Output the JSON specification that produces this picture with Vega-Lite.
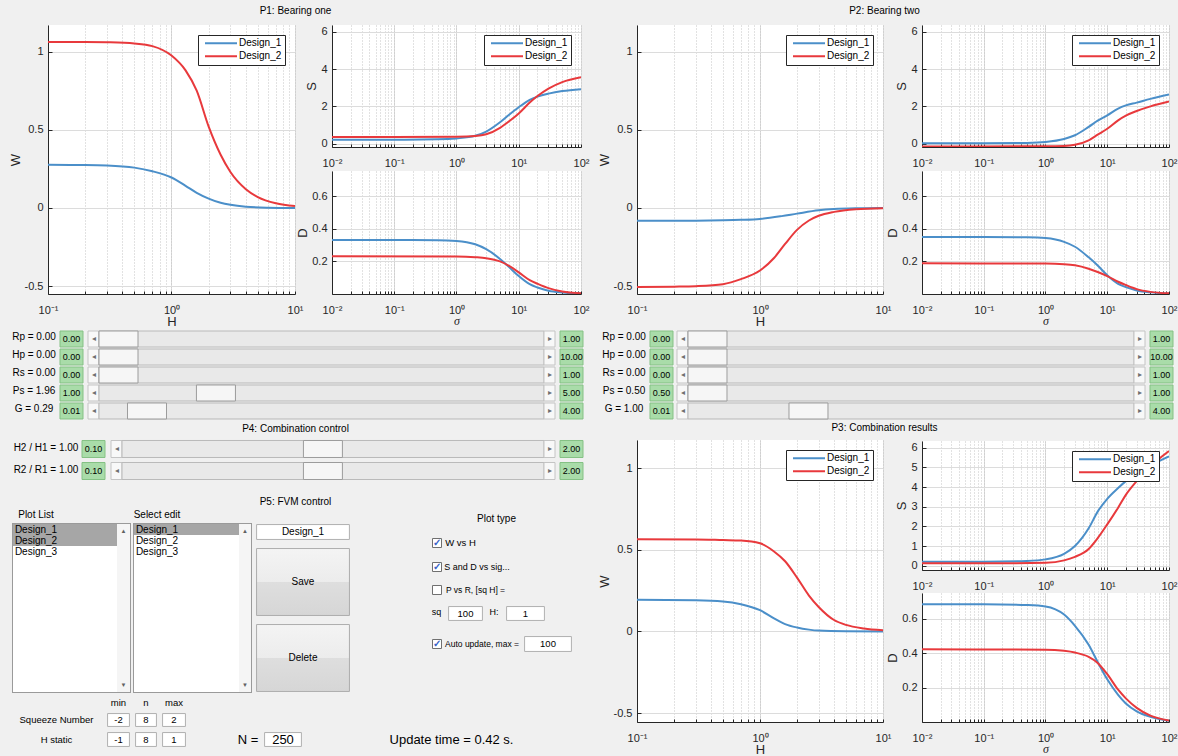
{
"$schema":"https://vega.github.io/schema/vega-lite/v6.json",
"padding":0,
"background":"#f0f0f0",
"autosize":{"type":"pad"},
"usermeta":{"embedOptions":{"actions":false}},
"config":{
 "view":{"stroke":null},
 "font":"Liberation Sans",
 "text":{"font":"Liberation Sans","fontSize":10,"color":"#000000"},
 "axis":{"labelFont":"Liberation Sans","labelFontSize":11,"labelColor":"#262626","titleFont":"Liberation Sans","titleFontSize":13,"titleFontWeight":"normal","titleColor":"#262626","domainColor":"#262626","domainWidth":1,"tickColor":"#262626","gridColor":"#dcdcdc","labelFlush":false,"labelOverlap":false,"labelBound":false},
 "legend":{"orient":"top-right","offset":10,"fillColor":"white","strokeColor":"#262626","padding":3,"symbolType":"stroke","symbolSize":1024,"symbolStrokeWidth":2,"symbolOffset":3,"clipHeight":10.5,"rowPadding":2,"labelOffset":1,"labelFont":"Liberation Sans","labelFontSize":10,"labelColor":"#000000","labelLimit":200}
},
"datasets":{
 "e":[],
 "one":[{"a":1}],
 "sl1":[{"k":"Rp","t":"Rp = 0.00","lo":0,"hi":1,"v":0,"los":"0.00","his":"1.00"},{"k":"Hp","t":"Hp = 0.00","lo":0,"hi":10,"v":0,"los":"0.00","his":"10.00"},{"k":"Rs","t":"Rs = 0.00","lo":0,"hi":1,"v":0,"los":"0.00","his":"1.00"},{"k":"Ps","t":"Ps = 1.96","lo":1,"hi":5,"v":1.96,"los":"1.00","his":"5.00"},{"k":"G","t":"G = 0.29","lo":0.01,"hi":4,"v":0.29,"los":"0.01","his":"4.00"}],
 "sl2":[{"k":"Rp","t":"Rp = 0.00","lo":0,"hi":1,"v":0,"los":"0.00","his":"1.00"},{"k":"Hp","t":"Hp = 0.00","lo":0,"hi":10,"v":0,"los":"0.00","his":"10.00"},{"k":"Rs","t":"Rs = 0.00","lo":0,"hi":1,"v":0,"los":"0.00","his":"1.00"},{"k":"Ps","t":"Ps = 0.50","lo":0.5,"hi":1,"v":0.5,"los":"0.50","his":"1.00"},{"k":"G","t":"G = 1.00","lo":0.01,"hi":4,"v":1,"los":"0.01","his":"4.00"}],
 "sl4":[{"k":"H","t":"H2 / H1 = 1.00","lo":0.1,"hi":2,"v":1,"los":"0.10","his":"2.00"},{"k":"R","t":"R2 / R1 = 1.00","lo":0.1,"hi":2,"v":1,"los":"0.10","his":"2.00"}],
 "lb1":[{"i":"Design_1","s":1},{"i":"Design_2","s":1},{"i":"Design_3","s":0}],
 "lb2":[{"i":"Design_1","s":1},{"i":"Design_2","s":0},{"i":"Design_3","s":0}],
 "pw1":[{"d":"Design_1","x":0.1,"y":0.276},{"d":"Design_1","x":0.2,"y":0.275},{"d":"Design_1","x":0.3,"y":0.272},{"d":"Design_1","x":0.5,"y":0.258},{"d":"Design_1","x":0.7,"y":0.235},{"d":"Design_1","x":1,"y":0.195},{"d":"Design_1","x":1.3,"y":0.142},{"d":"Design_1","x":1.6,"y":0.097},{"d":"Design_1","x":2,"y":0.06},{"d":"Design_1","x":2.5,"y":0.033},{"d":"Design_1","x":3,"y":0.02},{"d":"Design_1","x":4,"y":0.008},{"d":"Design_1","x":6,"y":0.002},{"d":"Design_1","x":10,"y":0},{"d":"Design_2","x":0.1,"y":1.062},{"d":"Design_2","x":0.2,"y":1.062},{"d":"Design_2","x":0.3,"y":1.06},{"d":"Design_2","x":0.5,"y":1.052},{"d":"Design_2","x":0.7,"y":1.035},{"d":"Design_2","x":1,"y":0.975},{"d":"Design_2","x":1.3,"y":0.88},{"d":"Design_2","x":1.6,"y":0.75},{"d":"Design_2","x":2,"y":0.52},{"d":"Design_2","x":2.5,"y":0.34},{"d":"Design_2","x":3,"y":0.23},{"d":"Design_2","x":4,"y":0.12},{"d":"Design_2","x":5,"y":0.07},{"d":"Design_2","x":7,"y":0.03},{"d":"Design_2","x":10,"y":0.012}],
 "ps1":[{"d":"Design_1","x":0.01,"y":0.21},{"d":"Design_1","x":0.1,"y":0.21},{"d":"Design_1","x":0.5,"y":0.23},{"d":"Design_1","x":1,"y":0.28},{"d":"Design_1","x":2,"y":0.42},{"d":"Design_1","x":3,"y":0.65},{"d":"Design_1","x":5,"y":1.15},{"d":"Design_1","x":7,"y":1.55},{"d":"Design_1","x":10,"y":1.95},{"d":"Design_1","x":15,"y":2.35},{"d":"Design_1","x":20,"y":2.52},{"d":"Design_1","x":30,"y":2.68},{"d":"Design_1","x":50,"y":2.82},{"d":"Design_1","x":100,"y":2.92},{"d":"Design_2","x":0.01,"y":0.35},{"d":"Design_2","x":0.1,"y":0.35},{"d":"Design_2","x":1,"y":0.37},{"d":"Design_2","x":2,"y":0.41},{"d":"Design_2","x":3,"y":0.5},{"d":"Design_2","x":5,"y":0.85},{"d":"Design_2","x":7,"y":1.2},{"d":"Design_2","x":10,"y":1.62},{"d":"Design_2","x":15,"y":2.2},{"d":"Design_2","x":20,"y":2.55},{"d":"Design_2","x":30,"y":2.95},{"d":"Design_2","x":50,"y":3.3},{"d":"Design_2","x":100,"y":3.56}],
 "pd1":[{"d":"Design_1","x":0.01,"y":0.331},{"d":"Design_1","x":0.1,"y":0.331},{"d":"Design_1","x":0.5,"y":0.33},{"d":"Design_1","x":1,"y":0.326},{"d":"Design_1","x":2,"y":0.305},{"d":"Design_1","x":3,"y":0.275},{"d":"Design_1","x":5,"y":0.215},{"d":"Design_1","x":7,"y":0.165},{"d":"Design_1","x":10,"y":0.11},{"d":"Design_1","x":15,"y":0.06},{"d":"Design_1","x":20,"y":0.04},{"d":"Design_1","x":30,"y":0.02},{"d":"Design_1","x":50,"y":0.009},{"d":"Design_1","x":100,"y":0.003},{"d":"Design_2","x":0.01,"y":0.231},{"d":"Design_2","x":1,"y":0.23},{"d":"Design_2","x":2,"y":0.226},{"d":"Design_2","x":3,"y":0.22},{"d":"Design_2","x":5,"y":0.2},{"d":"Design_2","x":7,"y":0.172},{"d":"Design_2","x":10,"y":0.133},{"d":"Design_2","x":15,"y":0.085},{"d":"Design_2","x":20,"y":0.063},{"d":"Design_2","x":30,"y":0.036},{"d":"Design_2","x":50,"y":0.016},{"d":"Design_2","x":100,"y":0.005}],
 "pw2":[{"d":"Design_1","x":0.1,"y":-0.082},{"d":"Design_1","x":0.3,"y":-0.081},{"d":"Design_1","x":0.5,"y":-0.079},{"d":"Design_1","x":0.7,"y":-0.076},{"d":"Design_1","x":1,"y":-0.07},{"d":"Design_1","x":1.5,"y":-0.052},{"d":"Design_1","x":2,"y":-0.036},{"d":"Design_1","x":3,"y":-0.015},{"d":"Design_1","x":4,"y":-0.007},{"d":"Design_1","x":6,"y":-0.002},{"d":"Design_1","x":10,"y":0},{"d":"Design_2","x":0.1,"y":-0.505},{"d":"Design_2","x":0.2,"y":-0.503},{"d":"Design_2","x":0.3,"y":-0.5},{"d":"Design_2","x":0.5,"y":-0.487},{"d":"Design_2","x":0.7,"y":-0.455},{"d":"Design_2","x":1,"y":-0.4},{"d":"Design_2","x":1.3,"y":-0.32},{"d":"Design_2","x":1.6,"y":-0.23},{"d":"Design_2","x":2,"y":-0.14},{"d":"Design_2","x":2.5,"y":-0.08},{"d":"Design_2","x":3,"y":-0.05},{"d":"Design_2","x":4,"y":-0.025},{"d":"Design_2","x":6,"y":-0.008},{"d":"Design_2","x":10,"y":-0.001}],
 "ps2":[{"d":"Design_1","x":0.01,"y":0.02},{"d":"Design_1","x":0.1,"y":0.02},{"d":"Design_1","x":0.5,"y":0.04},{"d":"Design_1","x":1,"y":0.09},{"d":"Design_1","x":2,"y":0.25},{"d":"Design_1","x":3,"y":0.45},{"d":"Design_1","x":5,"y":0.9},{"d":"Design_1","x":7,"y":1.23},{"d":"Design_1","x":10,"y":1.52},{"d":"Design_1","x":15,"y":1.88},{"d":"Design_1","x":20,"y":2.05},{"d":"Design_1","x":30,"y":2.2},{"d":"Design_1","x":50,"y":2.4},{"d":"Design_1","x":100,"y":2.63},{"d":"Design_2","x":0.01,"y":-0.15},{"d":"Design_2","x":1,"y":-0.14},{"d":"Design_2","x":2,"y":-0.12},{"d":"Design_2","x":3,"y":-0.06},{"d":"Design_2","x":5,"y":0.18},{"d":"Design_2","x":7,"y":0.48},{"d":"Design_2","x":10,"y":0.8},{"d":"Design_2","x":15,"y":1.25},{"d":"Design_2","x":20,"y":1.5},{"d":"Design_2","x":30,"y":1.75},{"d":"Design_2","x":50,"y":2.0},{"d":"Design_2","x":100,"y":2.26}],
 "pd2":[{"d":"Design_1","x":0.01,"y":0.35},{"d":"Design_1","x":0.1,"y":0.35},{"d":"Design_1","x":0.5,"y":0.348},{"d":"Design_1","x":1,"y":0.343},{"d":"Design_1","x":2,"y":0.32},{"d":"Design_1","x":3,"y":0.29},{"d":"Design_1","x":5,"y":0.225},{"d":"Design_1","x":7,"y":0.175},{"d":"Design_1","x":10,"y":0.115},{"d":"Design_1","x":15,"y":0.062},{"d":"Design_1","x":20,"y":0.042},{"d":"Design_1","x":30,"y":0.022},{"d":"Design_1","x":50,"y":0.01},{"d":"Design_1","x":100,"y":0.003},{"d":"Design_2","x":0.01,"y":0.188},{"d":"Design_2","x":1,"y":0.187},{"d":"Design_2","x":2,"y":0.183},{"d":"Design_2","x":3,"y":0.176},{"d":"Design_2","x":5,"y":0.155},{"d":"Design_2","x":7,"y":0.135},{"d":"Design_2","x":10,"y":0.11},{"d":"Design_2","x":15,"y":0.075},{"d":"Design_2","x":20,"y":0.055},{"d":"Design_2","x":30,"y":0.03},{"d":"Design_2","x":50,"y":0.013},{"d":"Design_2","x":100,"y":0.004}],
 "pw3":[{"d":"Design_1","x":0.1,"y":0.194},{"d":"Design_1","x":0.3,"y":0.191},{"d":"Design_1","x":0.5,"y":0.184},{"d":"Design_1","x":0.7,"y":0.167},{"d":"Design_1","x":1,"y":0.13},{"d":"Design_1","x":1.3,"y":0.08},{"d":"Design_1","x":1.6,"y":0.045},{"d":"Design_1","x":2,"y":0.024},{"d":"Design_1","x":2.5,"y":0.011},{"d":"Design_1","x":3,"y":0.005},{"d":"Design_1","x":5,"y":0.001},{"d":"Design_1","x":10,"y":0},{"d":"Design_2","x":0.1,"y":0.565},{"d":"Design_2","x":0.3,"y":0.564},{"d":"Design_2","x":0.5,"y":0.56},{"d":"Design_2","x":0.7,"y":0.557},{"d":"Design_2","x":1,"y":0.54},{"d":"Design_2","x":1.3,"y":0.49},{"d":"Design_2","x":1.6,"y":0.43},{"d":"Design_2","x":2,"y":0.33},{"d":"Design_2","x":2.5,"y":0.22},{"d":"Design_2","x":3,"y":0.15},{"d":"Design_2","x":4,"y":0.07},{"d":"Design_2","x":5,"y":0.04},{"d":"Design_2","x":7,"y":0.018},{"d":"Design_2","x":10,"y":0.007}],
 "ps3":[{"d":"Design_1","x":0.01,"y":0.2},{"d":"Design_1","x":0.1,"y":0.2},{"d":"Design_1","x":0.5,"y":0.24},{"d":"Design_1","x":1,"y":0.32},{"d":"Design_1","x":2,"y":0.6},{"d":"Design_1","x":3,"y":1.0},{"d":"Design_1","x":5,"y":1.9},{"d":"Design_1","x":7,"y":2.75},{"d":"Design_1","x":10,"y":3.4},{"d":"Design_1","x":15,"y":3.95},{"d":"Design_1","x":20,"y":4.3},{"d":"Design_1","x":30,"y":4.7},{"d":"Design_1","x":50,"y":5.1},{"d":"Design_1","x":100,"y":5.56},{"d":"Design_2","x":0.01,"y":0.12},{"d":"Design_2","x":0.1,"y":0.12},{"d":"Design_2","x":1,"y":0.15},{"d":"Design_2","x":2,"y":0.27},{"d":"Design_2","x":3,"y":0.45},{"d":"Design_2","x":5,"y":0.85},{"d":"Design_2","x":7,"y":1.4},{"d":"Design_2","x":10,"y":2.1},{"d":"Design_2","x":15,"y":2.95},{"d":"Design_2","x":20,"y":3.6},{"d":"Design_2","x":30,"y":4.3},{"d":"Design_2","x":50,"y":5.05},{"d":"Design_2","x":100,"y":5.83}],
 "pd3":[{"d":"Design_1","x":0.01,"y":0.685},{"d":"Design_1","x":0.1,"y":0.685},{"d":"Design_1","x":0.5,"y":0.68},{"d":"Design_1","x":1,"y":0.672},{"d":"Design_1","x":2,"y":0.625},{"d":"Design_1","x":3,"y":0.56},{"d":"Design_1","x":5,"y":0.45},{"d":"Design_1","x":7,"y":0.35},{"d":"Design_1","x":10,"y":0.25},{"d":"Design_1","x":15,"y":0.16},{"d":"Design_1","x":20,"y":0.11},{"d":"Design_1","x":30,"y":0.065},{"d":"Design_1","x":50,"y":0.033},{"d":"Design_1","x":100,"y":0.01},{"d":"Design_2","x":0.01,"y":0.424},{"d":"Design_2","x":1,"y":0.422},{"d":"Design_2","x":2,"y":0.415},{"d":"Design_2","x":3,"y":0.405},{"d":"Design_2","x":5,"y":0.38},{"d":"Design_2","x":7,"y":0.345},{"d":"Design_2","x":10,"y":0.28},{"d":"Design_2","x":15,"y":0.19},{"d":"Design_2","x":20,"y":0.14},{"d":"Design_2","x":30,"y":0.085},{"d":"Design_2","x":50,"y":0.04},{"d":"Design_2","x":100,"y":0.012}]
},
"spacing":0,
"resolve":{"scale":{"color":"independent"}},
"vconcat":[
{"vconcat":[
 {"hconcat":[
  {"width":6,"height":25,"data":{"name":"e"},"mark":"point"},
  {"width":579,"height":25,"data":{"name":"one"},"mark":{"type":"text","text":"P1: Bearing one","fontSize":10,"dy":-1.5}},
  {"width":12,"height":25,"data":{"name":"e"},"mark":"point"},
  {"width":575,"height":25,"data":{"name":"one"},"mark":{"type":"text","text":"P2: Bearing two","fontSize":10,"dy":-1.5}},
  {"width":6,"height":25,"data":{"name":"e"},"mark":"point"}
 ],"bounds":"flush","spacing":0},
 {"concat":[
  {"width":48,"height":304,"data":{"name":"e"},"mark":"point"},
  {"width":247,"height":269,"view":{"fill":"white"},"resolve":{"axis":{"x":"independent","y":"independent"}},"layer":[
   {"data":{"name":"e"},"mark":"point","encoding":{"x":{"field":"x","type":"quantitative","scale":{"type":"log","domain":[0.1,10],"nice":false},"axis":{"orient":"bottom","values":[0.1,1,10],"labelExpr":"datum.value < 0.5 ? '10⁻¹' : datum.value < 5 ? '10⁰' : '10¹'","grid":true,"ticks":false,"labelBaseline":"alphabetic","labelPadding":19,"title":"H","titlePadding":0}},"y":{"field":"y","type":"quantitative","scale":{"domain":[-0.55,1.17],"nice":false,"zero":false},"axis":{"orient":"left","values":[-0.5,0,0.5,1],"grid":false,"ticks":true,"tickSize":-4,"labels":false,"domain":false,"title":null}}}},
   {"data":{"name":"pw1"},"mark":{"type":"line","interpolate":"monotone","strokeWidth":2,"clip":true},"encoding":{"x":{"field":"x","type":"quantitative","scale":{"type":"log","domain":[0.1,10],"nice":false},"axis":{"orient":"bottom","values":[0.1,0.2,0.3,0.4,0.5,0.6,0.7,0.8,0.9,1,2,3,4,5,6,7,8,9,10],"grid":true,"gridColor":"#c4c4c4","gridDash":[1,2],"ticks":true,"tickSize":-3,"labels":false,"domain":false,"title":null}},"y":{"field":"y","type":"quantitative","scale":{"domain":[-0.55,1.17],"nice":false,"zero":false},"axis":{"orient":"left","values":[-0.5,0,0.5,1],"grid":true,"ticks":false,"labelPadding":5,"labelExpr":"toString(datum.value)","title":"W","titlePadding":2}},"color":{"field":"d","type":"nominal","scale":{"domain":["Design_1","Design_2"],"range":["#4b8fc9","#e8393c"]},"legend":{"title":null}}}}]},
  {"width":37,"height":1,"data":{"name":"e"},"mark":"point"},
  {"vconcat":[
   {"width":249,"height":122,"view":{"fill":"white"},"resolve":{"axis":{"x":"independent","y":"independent"}},"layer":[
    {"data":{"name":"e"},"mark":"point","encoding":{"x":{"field":"x","type":"quantitative","scale":{"type":"log","domain":[0.01,100],"nice":false},"axis":{"orient":"bottom","values":[0.01,0.1,1,10,100],"labelExpr":"datum.value < 0.05 ? '10⁻²' : datum.value < 0.5 ? '10⁻¹' : datum.value < 5 ? '10⁰' : datum.value < 50 ? '10¹' : '10²'","grid":true,"ticks":false,"labelBaseline":"alphabetic","labelPadding":19,"title":null}},"y":{"field":"y","type":"quantitative","scale":{"domain":[-0.18,6.36],"nice":false,"zero":false},"axis":{"orient":"left","values":[0,2,4,6],"grid":false,"ticks":true,"tickSize":-4,"labels":false,"domain":false,"title":null}}}},
    {"data":{"name":"ps1"},"mark":{"type":"line","interpolate":"monotone","strokeWidth":2,"clip":true},"encoding":{"x":{"field":"x","type":"quantitative","scale":{"type":"log","domain":[0.01,100],"nice":false},"axis":{"orient":"bottom","values":[0.01,0.02,0.03,0.04,0.05,0.06,0.07,0.08,0.09,0.1,0.2,0.3,0.4,0.5,0.6,0.7,0.8,0.9,1,2,3,4,5,6,7,8,9,10,20,30,40,50,60,70,80,90,100],"grid":true,"gridColor":"#c4c4c4","gridDash":[1,2],"ticks":true,"tickSize":-3,"labels":false,"domain":false,"title":null}},"y":{"field":"y","type":"quantitative","scale":{"domain":[-0.18,6.36],"nice":false,"zero":false},"axis":{"orient":"left","values":[0,2,4,6],"grid":true,"ticks":false,"labelPadding":5,"labelExpr":"toString(datum.value)","title":"S","titlePadding":2}},"color":{"field":"d","type":"nominal","scale":{"domain":["Design_1","Design_2"],"range":["#4b8fc9","#e8393c"]},"legend":{"title":null}}}}]},
   {"width":249,"height":24,"data":{"name":"e"},"mark":"point"},
   {"width":249,"height":123,"view":{"fill":"white"},"resolve":{"axis":{"x":"independent","y":"independent"}},"layer":[
    {"data":{"name":"e"},"mark":"point","encoding":{"x":{"field":"x","type":"quantitative","scale":{"type":"log","domain":[0.01,100],"nice":false},"axis":{"orient":"bottom","values":[0.01,0.1,1,10,100],"labelExpr":"datum.value < 0.05 ? '10⁻²' : datum.value < 0.5 ? '10⁻¹' : datum.value < 5 ? '10⁰' : datum.value < 50 ? '10¹' : '10²'","grid":true,"ticks":false,"labelBaseline":"alphabetic","labelPadding":19,"title":"σ","titleFont":"Liberation Serif","titleFontStyle":"italic","titleFontSize":12,"titlePadding":0}},"y":{"field":"y","type":"quantitative","scale":{"domain":[0,0.755],"nice":false,"zero":false},"axis":{"orient":"left","values":[0.2,0.4,0.6],"grid":false,"ticks":true,"tickSize":-4,"labels":false,"domain":false,"title":null}}}},
    {"data":{"name":"pd1"},"mark":{"type":"line","interpolate":"monotone","strokeWidth":2,"clip":true},"encoding":{"x":{"field":"x","type":"quantitative","scale":{"type":"log","domain":[0.01,100],"nice":false},"axis":{"orient":"bottom","values":[0.01,0.02,0.03,0.04,0.05,0.06,0.07,0.08,0.09,0.1,0.2,0.3,0.4,0.5,0.6,0.7,0.8,0.9,1,2,3,4,5,6,7,8,9,10,20,30,40,50,60,70,80,90,100],"grid":true,"gridColor":"#c4c4c4","gridDash":[1,2],"ticks":true,"tickSize":-3,"labels":false,"domain":false,"title":null}},"y":{"field":"y","type":"quantitative","scale":{"domain":[0,0.755],"nice":false,"zero":false},"axis":{"orient":"left","values":[0.2,0.4,0.6],"grid":true,"ticks":false,"labelPadding":5,"labelExpr":"toString(datum.value)","title":"D","titlePadding":2}},"color":{"field":"d","type":"nominal","scale":{"domain":["Design_1","Design_2"],"range":["#4b8fc9","#e8393c"]},"legend":null}}}]}
  ],"bounds":"flush","spacing":0,"resolve":{"scale":{"color":"independent"}}},
  {"width":56,"height":1,"data":{"name":"e"},"mark":"point"},
  {"width":246,"height":269,"view":{"fill":"white"},"resolve":{"axis":{"x":"independent","y":"independent"}},"layer":[
   {"data":{"name":"e"},"mark":"point","encoding":{"x":{"field":"x","type":"quantitative","scale":{"type":"log","domain":[0.1,10],"nice":false},"axis":{"orient":"bottom","values":[0.1,1,10],"labelExpr":"datum.value < 0.5 ? '10⁻¹' : datum.value < 5 ? '10⁰' : '10¹'","grid":true,"ticks":false,"labelBaseline":"alphabetic","labelPadding":19,"title":"H","titlePadding":0}},"y":{"field":"y","type":"quantitative","scale":{"domain":[-0.55,1.17],"nice":false,"zero":false},"axis":{"orient":"left","values":[-0.5,0,0.5,1],"grid":false,"ticks":true,"tickSize":-4,"labels":false,"domain":false,"title":null}}}},
   {"data":{"name":"pw2"},"mark":{"type":"line","interpolate":"monotone","strokeWidth":2,"clip":true},"encoding":{"x":{"field":"x","type":"quantitative","scale":{"type":"log","domain":[0.1,10],"nice":false},"axis":{"orient":"bottom","values":[0.1,0.2,0.3,0.4,0.5,0.6,0.7,0.8,0.9,1,2,3,4,5,6,7,8,9,10],"grid":true,"gridColor":"#c4c4c4","gridDash":[1,2],"ticks":true,"tickSize":-3,"labels":false,"domain":false,"title":null}},"y":{"field":"y","type":"quantitative","scale":{"domain":[-0.55,1.17],"nice":false,"zero":false},"axis":{"orient":"left","values":[-0.5,0,0.5,1],"grid":true,"ticks":false,"labelPadding":5,"labelExpr":"toString(datum.value)","title":"W","titlePadding":2}},"color":{"field":"d","type":"nominal","scale":{"domain":["Design_1","Design_2"],"range":["#4b8fc9","#e8393c"]},"legend":{"title":null}}}}]},
  {"width":39,"height":1,"data":{"name":"e"},"mark":"point"},
  {"vconcat":[
   {"width":247,"height":122,"view":{"fill":"white"},"resolve":{"axis":{"x":"independent","y":"independent"}},"layer":[
    {"data":{"name":"e"},"mark":"point","encoding":{"x":{"field":"x","type":"quantitative","scale":{"type":"log","domain":[0.01,100],"nice":false},"axis":{"orient":"bottom","values":[0.01,0.1,1,10,100],"labelExpr":"datum.value < 0.05 ? '10⁻²' : datum.value < 0.5 ? '10⁻¹' : datum.value < 5 ? '10⁰' : datum.value < 50 ? '10¹' : '10²'","grid":true,"ticks":false,"labelBaseline":"alphabetic","labelPadding":19,"title":null}},"y":{"field":"y","type":"quantitative","scale":{"domain":[-0.18,6.36],"nice":false,"zero":false},"axis":{"orient":"left","values":[0,2,4,6],"grid":false,"ticks":true,"tickSize":-4,"labels":false,"domain":false,"title":null}}}},
    {"data":{"name":"ps2"},"mark":{"type":"line","interpolate":"monotone","strokeWidth":2,"clip":true},"encoding":{"x":{"field":"x","type":"quantitative","scale":{"type":"log","domain":[0.01,100],"nice":false},"axis":{"orient":"bottom","values":[0.01,0.02,0.03,0.04,0.05,0.06,0.07,0.08,0.09,0.1,0.2,0.3,0.4,0.5,0.6,0.7,0.8,0.9,1,2,3,4,5,6,7,8,9,10,20,30,40,50,60,70,80,90,100],"grid":true,"gridColor":"#c4c4c4","gridDash":[1,2],"ticks":true,"tickSize":-3,"labels":false,"domain":false,"title":null}},"y":{"field":"y","type":"quantitative","scale":{"domain":[-0.18,6.36],"nice":false,"zero":false},"axis":{"orient":"left","values":[0,2,4,6],"grid":true,"ticks":false,"labelPadding":5,"labelExpr":"toString(datum.value)","title":"S","titlePadding":2}},"color":{"field":"d","type":"nominal","scale":{"domain":["Design_1","Design_2"],"range":["#4b8fc9","#e8393c"]},"legend":{"title":null}}}}]},
   {"width":247,"height":24,"data":{"name":"e"},"mark":"point"},
   {"width":247,"height":123,"view":{"fill":"white"},"resolve":{"axis":{"x":"independent","y":"independent"}},"layer":[
    {"data":{"name":"e"},"mark":"point","encoding":{"x":{"field":"x","type":"quantitative","scale":{"type":"log","domain":[0.01,100],"nice":false},"axis":{"orient":"bottom","values":[0.01,0.1,1,10,100],"labelExpr":"datum.value < 0.05 ? '10⁻²' : datum.value < 0.5 ? '10⁻¹' : datum.value < 5 ? '10⁰' : datum.value < 50 ? '10¹' : '10²'","grid":true,"ticks":false,"labelBaseline":"alphabetic","labelPadding":19,"title":"σ","titleFont":"Liberation Serif","titleFontStyle":"italic","titleFontSize":12,"titlePadding":0}},"y":{"field":"y","type":"quantitative","scale":{"domain":[0,0.755],"nice":false,"zero":false},"axis":{"orient":"left","values":[0.2,0.4,0.6],"grid":false,"ticks":true,"tickSize":-4,"labels":false,"domain":false,"title":null}}}},
    {"data":{"name":"pd2"},"mark":{"type":"line","interpolate":"monotone","strokeWidth":2,"clip":true},"encoding":{"x":{"field":"x","type":"quantitative","scale":{"type":"log","domain":[0.01,100],"nice":false},"axis":{"orient":"bottom","values":[0.01,0.02,0.03,0.04,0.05,0.06,0.07,0.08,0.09,0.1,0.2,0.3,0.4,0.5,0.6,0.7,0.8,0.9,1,2,3,4,5,6,7,8,9,10,20,30,40,50,60,70,80,90,100],"grid":true,"gridColor":"#c4c4c4","gridDash":[1,2],"ticks":true,"tickSize":-3,"labels":false,"domain":false,"title":null}},"y":{"field":"y","type":"quantitative","scale":{"domain":[0,0.755],"nice":false,"zero":false},"axis":{"orient":"left","values":[0.2,0.4,0.6],"grid":true,"ticks":false,"labelPadding":5,"labelExpr":"toString(datum.value)","title":"D","titlePadding":2}},"color":{"field":"d","type":"nominal","scale":{"domain":["Design_1","Design_2"],"range":["#4b8fc9","#e8393c"]},"legend":null}}}]}
  ],"bounds":"flush","spacing":0,"resolve":{"scale":{"color":"independent"}}},
  {"width":9,"height":1,"data":{"name":"e"},"mark":"point"},

  {"width":48,"height":1,"data":{"name":"e"},"mark":"point"},
  {"width":247,"height":1,"data":{"name":"e"},"mark":"point"},
  {"width":37,"height":1,"data":{"name":"e"},"mark":"point"},
  {"width":249,"height":1,"data":{"name":"e"},"mark":"point"},
  {"width":56,"height":1,"data":{"name":"e"},"mark":"point"},
  {"width":246,"height":1,"data":{"name":"e"},"mark":"point"},
  {"width":39,"height":1,"data":{"name":"e"},"mark":"point"},
  {"width":247,"height":1,"data":{"name":"e"},"mark":"point"},
  {"width":9,"height":1,"data":{"name":"e"},"mark":"point"}
 ],"columns":9,"bounds":"flush","spacing":0,"resolve":{"scale":{"color":"independent"}}}
],"spacing":0,"resolve":{"scale":{"color":"independent"}}},

{"hconcat":[
 {"width":8,"height":90,"data":{"name":"e"},"mark":"point"},
 {"width":52,"height":90,"data":{"name":"sl1"},"mark":{"type":"text","fontSize":10,"dy":-2},"encoding":{"y":{"field":"k","type":"nominal","sort":null,"axis":null,"scale":{"paddingInner":0.1111,"paddingOuter":0.0556}},"text":{"field":"t"}}},
 {"width":23,"height":90,"data":{"name":"sl1"},"encoding":{"y":{"field":"k","type":"nominal","sort":null,"axis":null,"scale":{"paddingInner":0.1111,"paddingOuter":0.0556}}},"layer":[{"mark":{"type":"rect","fill":"#a9dca9","stroke":"#84c184"},"encoding":{"x":{"datum":0,"scale":{"domain":[0,1]},"axis":null},"x2":{"datum":1}}},{"mark":{"type":"text","fontSize":9},"encoding":{"text":{"field":"los"}}}]},
 {"width":5,"height":90,"data":{"name":"e"},"mark":"point"},
 {"width":11,"height":90,"data":{"name":"sl1"},"encoding":{"y":{"field":"k","type":"nominal","sort":null,"axis":null,"scale":{"paddingInner":0.1111,"paddingOuter":0.0556}}},"layer":[{"mark":{"type":"rect","fill":"#f8f8f8","stroke":"#c4c4c4"},"encoding":{"x":{"datum":0,"scale":{"domain":[0,1]},"axis":null},"x2":{"datum":1}}},{"mark":{"type":"text","text":"◂","fontSize":8,"color":"#707070"}}]},
 {"width":445,"height":90,"data":{"name":"sl1"},"transform":[{"calculate":"(datum.v - datum.lo) / (datum.hi - datum.lo)","as":"f"},{"calculate":"datum.f + 0.0961","as":"f2"}],"encoding":{"y":{"field":"k","type":"nominal","sort":null,"axis":null,"scale":{"paddingInner":0.1111,"paddingOuter":0.0556}}},"layer":[{"mark":{"type":"rect","fill":"#e9e9e9","stroke":"#bababa"},"encoding":{"x":{"datum":0,"scale":{"domain":[0,1.0961]},"axis":null},"x2":{"datum":1.0961}}},{"mark":{"type":"rect","fill":"#f6f6f6","stroke":"#9c9c9c"},"encoding":{"x":{"field":"f","type":"quantitative","scale":{"domain":[0,1.0961]},"axis":null},"x2":{"field":"f2"}}}]},
 {"width":11,"height":90,"data":{"name":"sl1"},"encoding":{"y":{"field":"k","type":"nominal","sort":null,"axis":null,"scale":{"paddingInner":0.1111,"paddingOuter":0.0556}}},"layer":[{"mark":{"type":"rect","fill":"#f8f8f8","stroke":"#c4c4c4"},"encoding":{"x":{"datum":0,"scale":{"domain":[0,1]},"axis":null},"x2":{"datum":1}}},{"mark":{"type":"text","text":"▸","fontSize":8,"color":"#707070"}}]},
 {"width":5,"height":90,"data":{"name":"e"},"mark":"point"},
 {"width":23,"height":90,"data":{"name":"sl1"},"encoding":{"y":{"field":"k","type":"nominal","sort":null,"axis":null,"scale":{"paddingInner":0.1111,"paddingOuter":0.0556}}},"layer":[{"mark":{"type":"rect","fill":"#a9dca9","stroke":"#84c184"},"encoding":{"x":{"datum":0,"scale":{"domain":[0,1]},"axis":null},"x2":{"datum":1}}},{"mark":{"type":"text","fontSize":9},"encoding":{"text":{"field":"his"}}}]},
 {"width":15,"height":90,"data":{"name":"e"},"mark":"point"},
 {"width":52,"height":90,"data":{"name":"sl2"},"mark":{"type":"text","fontSize":10,"dy":-2},"encoding":{"y":{"field":"k","type":"nominal","sort":null,"axis":null,"scale":{"paddingInner":0.1111,"paddingOuter":0.0556}},"text":{"field":"t"}}},
 {"width":23,"height":90,"data":{"name":"sl2"},"encoding":{"y":{"field":"k","type":"nominal","sort":null,"axis":null,"scale":{"paddingInner":0.1111,"paddingOuter":0.0556}}},"layer":[{"mark":{"type":"rect","fill":"#a9dca9","stroke":"#84c184"},"encoding":{"x":{"datum":0,"scale":{"domain":[0,1]},"axis":null},"x2":{"datum":1}}},{"mark":{"type":"text","fontSize":9},"encoding":{"text":{"field":"los"}}}]},
 {"width":4,"height":90,"data":{"name":"e"},"mark":"point"},
 {"width":11,"height":90,"data":{"name":"sl2"},"encoding":{"y":{"field":"k","type":"nominal","sort":null,"axis":null,"scale":{"paddingInner":0.1111,"paddingOuter":0.0556}}},"layer":[{"mark":{"type":"rect","fill":"#f8f8f8","stroke":"#c4c4c4"},"encoding":{"x":{"datum":0,"scale":{"domain":[0,1]},"axis":null},"x2":{"datum":1}}},{"mark":{"type":"text","text":"◂","fontSize":8,"color":"#707070"}}]},
 {"width":446,"height":90,"data":{"name":"sl2"},"transform":[{"calculate":"(datum.v - datum.lo) / (datum.hi - datum.lo)","as":"f"},{"calculate":"datum.f + 0.0958","as":"f2"}],"encoding":{"y":{"field":"k","type":"nominal","sort":null,"axis":null,"scale":{"paddingInner":0.1111,"paddingOuter":0.0556}}},"layer":[{"mark":{"type":"rect","fill":"#e9e9e9","stroke":"#bababa"},"encoding":{"x":{"datum":0,"scale":{"domain":[0,1.0958]},"axis":null},"x2":{"datum":1.0958}}},{"mark":{"type":"rect","fill":"#f6f6f6","stroke":"#9c9c9c"},"encoding":{"x":{"field":"f","type":"quantitative","scale":{"domain":[0,1.0958]},"axis":null},"x2":{"field":"f2"}}}]},
 {"width":11,"height":90,"data":{"name":"sl2"},"encoding":{"y":{"field":"k","type":"nominal","sort":null,"axis":null,"scale":{"paddingInner":0.1111,"paddingOuter":0.0556}}},"layer":[{"mark":{"type":"rect","fill":"#f8f8f8","stroke":"#c4c4c4"},"encoding":{"x":{"datum":0,"scale":{"domain":[0,1]},"axis":null},"x2":{"datum":1}}},{"mark":{"type":"text","text":"▸","fontSize":8,"color":"#707070"}}]},
 {"width":5,"height":90,"data":{"name":"e"},"mark":"point"},
 {"width":23,"height":90,"data":{"name":"sl2"},"encoding":{"y":{"field":"k","type":"nominal","sort":null,"axis":null,"scale":{"paddingInner":0.1111,"paddingOuter":0.0556}}},"layer":[{"mark":{"type":"rect","fill":"#a9dca9","stroke":"#84c184"},"encoding":{"x":{"datum":0,"scale":{"domain":[0,1]},"axis":null},"x2":{"datum":1}}},{"mark":{"type":"text","fontSize":9},"encoding":{"text":{"field":"his"}}}]},
 {"width":5,"height":90,"data":{"name":"e"},"mark":"point"}
],"bounds":"flush","spacing":0},

{"hconcat":[
 {"vconcat":[
  {"hconcat":[
   {"width":6,"height":18,"data":{"name":"e"},"mark":"point"},
   {"width":579,"height":18,"data":{"name":"one"},"mark":{"type":"text","text":"P4: Combination control","fontSize":10}},
   {"width":10,"height":18,"data":{"name":"e"},"mark":"point"}
  ],"bounds":"flush","spacing":0},
  {"hconcat":[
   {"width":10,"height":44,"data":{"name":"e"},"mark":"point"},
   {"width":72,"height":44,"data":{"name":"sl4"},"mark":{"type":"text","fontSize":10,"dy":-1},"encoding":{"y":{"field":"k","type":"nominal","sort":null,"axis":null,"scale":{"paddingInner":0.2273,"paddingOuter":0.1136}},"text":{"field":"t"}}},
   {"width":23,"height":44,"data":{"name":"sl4"},"encoding":{"y":{"field":"k","type":"nominal","sort":null,"axis":null,"scale":{"paddingInner":0.2273,"paddingOuter":0.1136}}},"layer":[{"mark":{"type":"rect","fill":"#a9dca9","stroke":"#84c184"},"encoding":{"x":{"datum":0,"scale":{"domain":[0,1]},"axis":null},"x2":{"datum":1}}},{"mark":{"type":"text","fontSize":9},"encoding":{"text":{"field":"los"}}}]},
   {"width":6,"height":44,"data":{"name":"e"},"mark":"point"},
   {"width":11,"height":44,"data":{"name":"sl4"},"encoding":{"y":{"field":"k","type":"nominal","sort":null,"axis":null,"scale":{"paddingInner":0.2273,"paddingOuter":0.1136}}},"layer":[{"mark":{"type":"rect","fill":"#f8f8f8","stroke":"#c4c4c4"},"encoding":{"x":{"datum":0,"scale":{"domain":[0,1]},"axis":null},"x2":{"datum":1}}},{"mark":{"type":"text","text":"◂","fontSize":8,"color":"#707070"}}]},
   {"width":422,"height":44,"data":{"name":"sl4"},"transform":[{"calculate":"(datum.v - datum.lo) / (datum.hi - datum.lo)","as":"f"},{"calculate":"datum.f + 0.1018","as":"f2"}],"encoding":{"y":{"field":"k","type":"nominal","sort":null,"axis":null,"scale":{"paddingInner":0.2273,"paddingOuter":0.1136}}},"layer":[{"mark":{"type":"rect","fill":"#e9e9e9","stroke":"#bababa"},"encoding":{"x":{"datum":0,"scale":{"domain":[0,1.1018]},"axis":null},"x2":{"datum":1.1018}}},{"mark":{"type":"rect","fill":"#f6f6f6","stroke":"#9c9c9c"},"encoding":{"x":{"field":"f","type":"quantitative","scale":{"domain":[0,1.1018]},"axis":null},"x2":{"field":"f2"}}}]},
   {"width":11,"height":44,"data":{"name":"sl4"},"encoding":{"y":{"field":"k","type":"nominal","sort":null,"axis":null,"scale":{"paddingInner":0.2273,"paddingOuter":0.1136}}},"layer":[{"mark":{"type":"rect","fill":"#f8f8f8","stroke":"#c4c4c4"},"encoding":{"x":{"datum":0,"scale":{"domain":[0,1]},"axis":null},"x2":{"datum":1}}},{"mark":{"type":"text","text":"▸","fontSize":8,"color":"#707070"}}]},
   {"width":5,"height":44,"data":{"name":"e"},"mark":"point"},
   {"width":23,"height":44,"data":{"name":"sl4"},"encoding":{"y":{"field":"k","type":"nominal","sort":null,"axis":null,"scale":{"paddingInner":0.2273,"paddingOuter":0.1136}}},"layer":[{"mark":{"type":"rect","fill":"#a9dca9","stroke":"#84c184"},"encoding":{"x":{"datum":0,"scale":{"domain":[0,1]},"axis":null},"x2":{"datum":1}}},{"mark":{"type":"text","fontSize":9},"encoding":{"text":{"field":"his"}}}]},
   {"width":12,"height":44,"data":{"name":"e"},"mark":"point"}
  ],"bounds":"flush","spacing":0},
  {"width":595,"height":13,"data":{"name":"e"},"mark":"point"},
  {"hconcat":[
   {"width":6,"height":14,"data":{"name":"e"},"mark":"point"},
   {"width":579,"height":14,"data":{"name":"one"},"mark":{"type":"text","text":"P5: FVM control","fontSize":10}},
   {"width":10,"height":14,"data":{"name":"e"},"mark":"point"}
  ],"bounds":"flush","spacing":0},
  {"hconcat":[
   {"concat":[
    {"width":12,"height":187,"data":{"name":"e"},"mark":"point"},
    {"vconcat":[
     {"width":1,"height":14,"data":{"name":"e"},"mark":"point"},
     {"width":1,"height":170,"view":{"fill":"#9a9a9a"},"data":{"name":"e"},"mark":"point"}
    ],"bounds":"flush","spacing":0},
    {"vconcat":[
     {"width":46,"height":11,"data":{"name":"one"},"mark":{"type":"text","text":"Plot List","fontSize":10}},
     {"width":46,"height":3,"data":{"name":"e"},"mark":"point"},
     {"width":46,"height":1,"view":{"fill":"#9a9a9a"},"data":{"name":"e"},"mark":"point"},
     {"width":46,"height":33,"view":{"fill":"white"},"data":{"name":"lb1"},"encoding":{"y":{"field":"i","type":"nominal","sort":null,"axis":null,"scale":{"paddingInner":0,"paddingOuter":0}}},"layer":[{"mark":"rect","encoding":{"x":{"datum":0,"scale":{"domain":[0,1]},"axis":null},"x2":{"datum":1},"fill":{"condition":{"test":"datum.s == 1","value":"#a6a6a6"},"value":"white"}}},{"mark":{"type":"text","fontSize":10},"encoding":{"text":{"field":"i"}}}]},
     {"width":46,"height":135,"view":{"fill":"white"},"data":{"name":"e"},"mark":"point"},
     {"width":46,"height":1,"view":{"fill":"#9a9a9a"},"data":{"name":"e"},"mark":"point"}
    ],"bounds":"flush","spacing":0},
    {"vconcat":[
     {"width":58,"height":14,"data":{"name":"e"},"mark":"point"},
     {"width":58,"height":1,"view":{"fill":"#9a9a9a"},"data":{"name":"e"},"mark":"point"},
     {"width":58,"height":33,"view":{"fill":"white"},"data":{"name":"lb1"},"mark":"rect","encoding":{"y":{"field":"i","type":"nominal","sort":null,"axis":null,"scale":{"paddingInner":0,"paddingOuter":0}},"x":{"datum":0,"scale":{"domain":[0,1]},"axis":null},"x2":{"datum":1},"fill":{"condition":{"test":"datum.s == 1","value":"#a6a6a6"},"value":"white"}}},
     {"width":58,"height":135,"view":{"fill":"white"},"data":{"name":"e"},"mark":"point"},
     {"width":58,"height":1,"view":{"fill":"#9a9a9a"},"data":{"name":"e"},"mark":"point"}
    ],"bounds":"flush","spacing":0},
    {"vconcat":[
     {"width":13,"height":14,"data":{"name":"e"},"mark":"point"},
     {"width":13,"height":1,"view":{"fill":"#9a9a9a"},"data":{"name":"e"},"mark":"point"},
     {"width":13,"height":14,"view":{"fill":"#f5f5f5"},"data":{"name":"one"},"mark":{"type":"text","text":"▲","fontSize":6,"color":"#606060"}},
     {"width":13,"height":140,"view":{"fill":"#f5f5f5"},"data":{"name":"e"},"mark":"point"},
     {"width":13,"height":14,"view":{"fill":"#f5f5f5"},"data":{"name":"one"},"mark":{"type":"text","text":"▼","fontSize":6,"color":"#606060"}},
     {"width":13,"height":1,"view":{"fill":"#9a9a9a"},"data":{"name":"e"},"mark":"point"}
    ],"bounds":"flush","spacing":0},
    {"vconcat":[
     {"width":1,"height":14,"data":{"name":"e"},"mark":"point"},
     {"width":1,"height":170,"view":{"fill":"#9a9a9a"},"data":{"name":"e"},"mark":"point"}
    ],"bounds":"flush","spacing":0},
    {"width":2,"height":1,"data":{"name":"e"},"mark":"point"},
    {"vconcat":[
     {"width":1,"height":14,"data":{"name":"e"},"mark":"point"},
     {"width":1,"height":170,"view":{"fill":"#9a9a9a"},"data":{"name":"e"},"mark":"point"}
    ],"bounds":"flush","spacing":0},
    {"vconcat":[
     {"width":46,"height":11,"data":{"name":"one"},"mark":{"type":"text","text":"Select edit","fontSize":10}},
     {"width":46,"height":3,"data":{"name":"e"},"mark":"point"},
     {"width":46,"height":1,"view":{"fill":"#9a9a9a"},"data":{"name":"e"},"mark":"point"},
     {"width":46,"height":33,"view":{"fill":"white"},"data":{"name":"lb2"},"encoding":{"y":{"field":"i","type":"nominal","sort":null,"axis":null,"scale":{"paddingInner":0,"paddingOuter":0}}},"layer":[{"mark":"rect","encoding":{"x":{"datum":0,"scale":{"domain":[0,1]},"axis":null},"x2":{"datum":1},"fill":{"condition":{"test":"datum.s == 1","value":"#a6a6a6"},"value":"white"}}},{"mark":{"type":"text","fontSize":10},"encoding":{"text":{"field":"i"}}}]},
     {"width":46,"height":135,"view":{"fill":"white"},"data":{"name":"e"},"mark":"point"},
     {"width":46,"height":1,"view":{"fill":"#9a9a9a"},"data":{"name":"e"},"mark":"point"}
    ],"bounds":"flush","spacing":0},
    {"vconcat":[
     {"width":59,"height":14,"data":{"name":"e"},"mark":"point"},
     {"width":59,"height":1,"view":{"fill":"#9a9a9a"},"data":{"name":"e"},"mark":"point"},
     {"width":59,"height":33,"view":{"fill":"white"},"data":{"name":"lb2"},"mark":"rect","encoding":{"y":{"field":"i","type":"nominal","sort":null,"axis":null,"scale":{"paddingInner":0,"paddingOuter":0}},"x":{"datum":0,"scale":{"domain":[0,1]},"axis":null},"x2":{"datum":1},"fill":{"condition":{"test":"datum.s == 1","value":"#a6a6a6"},"value":"white"}}},
     {"width":59,"height":135,"view":{"fill":"white"},"data":{"name":"e"},"mark":"point"},
     {"width":59,"height":1,"view":{"fill":"#9a9a9a"},"data":{"name":"e"},"mark":"point"}
    ],"bounds":"flush","spacing":0},
    {"vconcat":[
     {"width":12,"height":14,"data":{"name":"e"},"mark":"point"},
     {"width":12,"height":1,"view":{"fill":"#9a9a9a"},"data":{"name":"e"},"mark":"point"},
     {"width":12,"height":14,"view":{"fill":"#f5f5f5"},"data":{"name":"one"},"mark":{"type":"text","text":"▲","fontSize":6,"color":"#606060"}},
     {"width":12,"height":140,"view":{"fill":"#f5f5f5"},"data":{"name":"e"},"mark":"point"},
     {"width":12,"height":14,"view":{"fill":"#f5f5f5"},"data":{"name":"one"},"mark":{"type":"text","text":"▼","fontSize":6,"color":"#606060"}},
     {"width":12,"height":1,"view":{"fill":"#9a9a9a"},"data":{"name":"e"},"mark":"point"}
    ],"bounds":"flush","spacing":0},
    {"vconcat":[
     {"width":1,"height":14,"data":{"name":"e"},"mark":"point"},
     {"width":1,"height":170,"view":{"fill":"#9a9a9a"},"data":{"name":"e"},"mark":"point"}
    ],"bounds":"flush","spacing":0},
    {"width":4,"height":1,"data":{"name":"e"},"mark":"point"},
    {"vconcat":[
     {"width":94,"height":15,"data":{"name":"e"},"mark":"point"},
     {"width":94,"height":16,"data":{"name":"one"},"layer":[{"mark":{"type":"rect","fill":"white","stroke":"#b0b0b0"},"encoding":{"x":{"datum":0,"scale":{"domain":[-0.0064,1.0064]},"axis":null},"x2":{"datum":1},"y":{"datum":0,"scale":{"domain":[-0.0375,1.0375]},"axis":null},"y2":{"datum":1}}},{"mark":{"type":"text","text":"Design_1","fontSize":10}}]},
     {"width":94,"height":8,"data":{"name":"e"},"mark":"point"},
     {"width":94,"height":68,"data":{"name":"one"},"layer":[{"mark":{"type":"rect","stroke":"#adadad","fill":{"gradient":"linear","x1":0,"y1":0,"x2":0,"y2":1,"stops":[{"offset":0,"color":"#f4f4f4"},{"offset":0.5,"color":"#ececec"},{"offset":0.5,"color":"#dedede"},{"offset":1,"color":"#d6d6d6"}]}},"encoding":{"x":{"datum":0,"scale":{"domain":[-0.006,1.006]},"axis":null},"x2":{"datum":1},"y":{"datum":0,"scale":{"domain":[-0.008,1.008]},"axis":null},"y2":{"datum":1}}},{"mark":{"type":"text","text":"Save","fontSize":10}}]},
     {"width":94,"height":8,"data":{"name":"e"},"mark":"point"},
     {"width":94,"height":68,"data":{"name":"one"},"layer":[{"mark":{"type":"rect","stroke":"#adadad","fill":{"gradient":"linear","x1":0,"y1":0,"x2":0,"y2":1,"stops":[{"offset":0,"color":"#f4f4f4"},{"offset":0.5,"color":"#ececec"},{"offset":0.5,"color":"#dedede"},{"offset":1,"color":"#d6d6d6"}]}},"encoding":{"x":{"datum":0,"scale":{"domain":[-0.006,1.006]},"axis":null},"x2":{"datum":1},"y":{"datum":0,"scale":{"domain":[-0.008,1.008]},"axis":null},"y2":{"datum":1}}},{"mark":{"type":"text","text":"Delete","fontSize":10}}]}
    ],"bounds":"flush","spacing":0},

    {"width":12,"height":1,"data":{"name":"e"},"mark":"point"},
    {"width":1,"height":1,"data":{"name":"e"},"mark":"point"},
    {"width":46,"height":1,"data":{"name":"e"},"mark":"point"},
    {"width":58,"height":1,"data":{"name":"e"},"mark":"point"},
    {"width":13,"height":1,"data":{"name":"e"},"mark":"point"},
    {"width":1,"height":1,"data":{"name":"e"},"mark":"point"},
    {"width":2,"height":1,"data":{"name":"e"},"mark":"point"},
    {"width":1,"height":1,"data":{"name":"e"},"mark":"point"},
    {"width":46,"height":1,"data":{"name":"e"},"mark":"point"},
    {"width":59,"height":1,"data":{"name":"e"},"mark":"point"},
    {"width":12,"height":1,"data":{"name":"e"},"mark":"point"},
    {"width":1,"height":1,"data":{"name":"e"},"mark":"point"},
    {"width":4,"height":1,"data":{"name":"e"},"mark":"point"},
    {"width":94,"height":1,"data":{"name":"e"},"mark":"point"}
   ],"columns":14,"bounds":"flush","spacing":0},
   {"vconcat":[
    {"hconcat":[
     {"width":120,"height":15,"data":{"name":"e"},"mark":"point"},
     {"width":53,"height":15,"data":{"name":"one"},"mark":{"type":"text","text":"Plot type","fontSize":10,"dy":2}},
     {"width":72,"height":15,"data":{"name":"e"},"mark":"point"}
    ],"bounds":"flush","spacing":0},
    {"width":245,"height":11,"data":{"name":"e"},"mark":"point"},
    {"hconcat":[
     {"width":82,"height":16,"data":{"name":"e"},"mark":"point"},
     {"width":10,"height":16,"data":{"name":"one"},"layer":[{"mark":{"type":"point","shape":"square","size":81,"filled":true,"fill":"white","stroke":"#707070","strokeWidth":1,"opacity":1}},{"mark":{"type":"text","text":"✓","fontSize":10,"fontWeight":"bold","color":"#3a64c8"}}]},
     {"width":3,"height":16,"data":{"name":"e"},"mark":"point"},
     {"width":31,"height":16,"data":{"name":"one"},"mark":{"type":"text","text":"W vs H","fontSize":9.5}},
     {"width":119,"height":16,"data":{"name":"e"},"mark":"point"}
    ],"bounds":"flush","spacing":0},
    {"width":245,"height":8,"data":{"name":"e"},"mark":"point"},
    {"hconcat":[
     {"width":82,"height":16,"data":{"name":"e"},"mark":"point"},
     {"width":10,"height":16,"data":{"name":"one"},"layer":[{"mark":{"type":"point","shape":"square","size":81,"filled":true,"fill":"white","stroke":"#707070","strokeWidth":1,"opacity":1}},{"mark":{"type":"text","text":"✓","fontSize":10,"fontWeight":"bold","color":"#3a64c8"}}]},
     {"width":3,"height":16,"data":{"name":"e"},"mark":"point"},
     {"width":64,"height":16,"data":{"name":"one"},"mark":{"type":"text","text":"S and D vs sig...","fontSize":9}},
     {"width":86,"height":16,"data":{"name":"e"},"mark":"point"}
    ],"bounds":"flush","spacing":0},
    {"width":245,"height":7,"data":{"name":"e"},"mark":"point"},
    {"hconcat":[
     {"width":82,"height":16,"data":{"name":"e"},"mark":"point"},
     {"width":10,"height":16,"data":{"name":"one"},"mark":{"type":"point","shape":"square","size":81,"filled":true,"fill":"white","stroke":"#707070","strokeWidth":1,"opacity":1}},
     {"width":3,"height":16,"data":{"name":"e"},"mark":"point"},
     {"width":61,"height":16,"data":{"name":"one"},"mark":{"type":"text","text":"P vs R, [sq H] =","fontSize":8.5}},
     {"width":89,"height":16,"data":{"name":"e"},"mark":"point"}
    ],"bounds":"flush","spacing":0},
    {"width":245,"height":8,"data":{"name":"e"},"mark":"point"},
    {"hconcat":[
     {"width":81,"height":15,"data":{"name":"e"},"mark":"point"},
     {"width":11,"height":15,"data":{"name":"one"},"mark":{"type":"text","text":"sq","fontSize":9,"dy":-2}},
     {"width":6,"height":15,"data":{"name":"e"},"mark":"point"},
     {"width":35,"height":15,"data":{"name":"one"},"layer":[{"mark":{"type":"rect","fill":"white","stroke":"#b0b0b0"},"encoding":{"x":{"datum":0,"scale":{"domain":[-0.0171,1.0171]},"axis":null},"x2":{"datum":1},"y":{"datum":0,"scale":{"domain":[-0.04,1.04]},"axis":null},"y2":{"datum":1}}},{"mark":{"type":"text","text":"100","fontSize":9.5}}]},
     {"width":6,"height":15,"data":{"name":"e"},"mark":"point"},
     {"width":10,"height":15,"data":{"name":"one"},"mark":{"type":"text","text":"H:","fontSize":9,"dy":-2}},
     {"width":7,"height":15,"data":{"name":"e"},"mark":"point"},
     {"width":39,"height":15,"data":{"name":"one"},"layer":[{"mark":{"type":"rect","fill":"white","stroke":"#b0b0b0"},"encoding":{"x":{"datum":0,"scale":{"domain":[-0.0154,1.0154]},"axis":null},"x2":{"datum":1},"y":{"datum":0,"scale":{"domain":[-0.04,1.04]},"axis":null},"y2":{"datum":1}}},{"mark":{"type":"text","text":"1","fontSize":9.5}}]},
     {"width":50,"height":15,"data":{"name":"e"},"mark":"point"}
    ],"bounds":"flush","spacing":0},
    {"width":245,"height":15,"data":{"name":"e"},"mark":"point"},
    {"hconcat":[
     {"width":82,"height":16,"data":{"name":"e"},"mark":"point"},
     {"width":10,"height":16,"data":{"name":"one"},"layer":[{"mark":{"type":"point","shape":"square","size":81,"filled":true,"fill":"white","stroke":"#707070","strokeWidth":1,"opacity":1}},{"mark":{"type":"text","text":"✓","fontSize":10,"fontWeight":"bold","color":"#3a64c8"}}]},
     {"width":3,"height":16,"data":{"name":"e"},"mark":"point"},
     {"width":74,"height":16,"data":{"name":"one"},"mark":{"type":"text","text":"Auto update, max =","fontSize":8.5}},
     {"width":5,"height":16,"data":{"name":"e"},"mark":"point"},
     {"width":48,"height":16,"data":{"name":"one"},"layer":[{"mark":{"type":"rect","fill":"white","stroke":"#b0b0b0"},"encoding":{"x":{"datum":0,"scale":{"domain":[-0.0125,1.0125]},"axis":null},"x2":{"datum":1},"y":{"datum":0,"scale":{"domain":[-0.0375,1.0375]},"axis":null},"y2":{"datum":1}}},{"mark":{"type":"text","text":"100","fontSize":9.5}}]},
     {"width":23,"height":16,"data":{"name":"e"},"mark":"point"}
    ],"bounds":"flush","spacing":0},
    {"width":245,"height":45,"data":{"name":"e"},"mark":"point"}
   ],"spacing":0}
  ],"spacing":0},
  {"vconcat":[
   {"hconcat":[
    {"width":107,"height":11,"data":{"name":"e"},"mark":"point"},
    {"width":23,"height":11,"data":{"name":"one"},"mark":{"type":"text","text":"min","fontSize":9.5}},
    {"width":5,"height":11,"data":{"name":"e"},"mark":"point"},
    {"width":22,"height":11,"data":{"name":"one"},"mark":{"type":"text","text":"n","fontSize":9.5}},
    {"width":5,"height":11,"data":{"name":"e"},"mark":"point"},
    {"width":24,"height":11,"data":{"name":"one"},"mark":{"type":"text","text":"max","fontSize":9.5}},
    {"width":409,"height":11,"data":{"name":"e"},"mark":"point"}
   ],"bounds":"flush","spacing":0},
   {"width":595,"height":5,"data":{"name":"e"},"mark":"point"},
   {"hconcat":[
    {"width":20,"height":14,"data":{"name":"e"},"mark":"point"},
    {"width":73,"height":14,"data":{"name":"one"},"mark":{"type":"text","text":"Squeeze Number","fontSize":9.5}},
    {"width":14,"height":14,"data":{"name":"e"},"mark":"point"},
    {"width":23,"height":14,"data":{"name":"one"},"layer":[{"mark":{"type":"rect","fill":"white","stroke":"#b0b0b0"},"encoding":{"x":{"datum":0,"scale":{"domain":[-0.0261,1.0261]},"axis":null},"x2":{"datum":1},"y":{"datum":0,"scale":{"domain":[-0.0429,1.0429]},"axis":null},"y2":{"datum":1}}},{"mark":{"type":"text","text":"-2","fontSize":9.5}}]},
    {"width":5,"height":14,"data":{"name":"e"},"mark":"point"},
    {"width":22,"height":14,"data":{"name":"one"},"layer":[{"mark":{"type":"rect","fill":"white","stroke":"#b0b0b0"},"encoding":{"x":{"datum":0,"scale":{"domain":[-0.0273,1.0273]},"axis":null},"x2":{"datum":1},"y":{"datum":0,"scale":{"domain":[-0.0429,1.0429]},"axis":null},"y2":{"datum":1}}},{"mark":{"type":"text","text":"8","fontSize":9.5}}]},
    {"width":5,"height":14,"data":{"name":"e"},"mark":"point"},
    {"width":24,"height":14,"data":{"name":"one"},"layer":[{"mark":{"type":"rect","fill":"white","stroke":"#b0b0b0"},"encoding":{"x":{"datum":0,"scale":{"domain":[-0.025,1.025]},"axis":null},"x2":{"datum":1},"y":{"datum":0,"scale":{"domain":[-0.0429,1.0429]},"axis":null},"y2":{"datum":1}}},{"mark":{"type":"text","text":"2","fontSize":9.5}}]},
    {"width":409,"height":14,"data":{"name":"e"},"mark":"point"}
   ],"bounds":"flush","spacing":0},
   {"width":595,"height":5,"data":{"name":"e"},"mark":"point"},
   {"hconcat":[
    {"width":36,"height":15,"data":{"name":"e"},"mark":"point"},
    {"width":41,"height":15,"data":{"name":"one"},"mark":{"type":"text","text":"H static","fontSize":9.5}},
    {"width":30,"height":15,"data":{"name":"e"},"mark":"point"},
    {"width":23,"height":15,"data":{"name":"one"},"layer":[{"mark":{"type":"rect","fill":"white","stroke":"#b0b0b0"},"encoding":{"x":{"datum":0,"scale":{"domain":[-0.0261,1.0261]},"axis":null},"x2":{"datum":1},"y":{"datum":0,"scale":{"domain":[-0.04,1.04]},"axis":null},"y2":{"datum":1}}},{"mark":{"type":"text","text":"-1","fontSize":9.5}}]},
    {"width":5,"height":15,"data":{"name":"e"},"mark":"point"},
    {"width":22,"height":15,"data":{"name":"one"},"layer":[{"mark":{"type":"rect","fill":"white","stroke":"#b0b0b0"},"encoding":{"x":{"datum":0,"scale":{"domain":[-0.0273,1.0273]},"axis":null},"x2":{"datum":1},"y":{"datum":0,"scale":{"domain":[-0.04,1.04]},"axis":null},"y2":{"datum":1}}},{"mark":{"type":"text","text":"8","fontSize":9.5}}]},
    {"width":5,"height":15,"data":{"name":"e"},"mark":"point"},
    {"width":24,"height":15,"data":{"name":"one"},"layer":[{"mark":{"type":"rect","fill":"white","stroke":"#b0b0b0"},"encoding":{"x":{"datum":0,"scale":{"domain":[-0.025,1.025]},"axis":null},"x2":{"datum":1},"y":{"datum":0,"scale":{"domain":[-0.04,1.04]},"axis":null},"y2":{"datum":1}}},{"mark":{"type":"text","text":"1","fontSize":9.5}}]},
    {"width":52,"height":15,"data":{"name":"e"},"mark":"point"},
    {"width":20,"height":15,"data":{"name":"one"},"mark":{"type":"text","text":"N =","fontSize":13}},
    {"width":6,"height":15,"data":{"name":"e"},"mark":"point"},
    {"width":38,"height":15,"data":{"name":"one"},"layer":[{"mark":{"type":"rect","fill":"white","stroke":"#b0b0b0"},"encoding":{"x":{"datum":0,"scale":{"domain":[-0.0158,1.0158]},"axis":null},"x2":{"datum":1},"y":{"datum":0,"scale":{"domain":[-0.04,1.04]},"axis":null},"y2":{"datum":1}}},{"mark":{"type":"text","text":"250","fontSize":13}}]},
    {"width":89,"height":15,"data":{"name":"e"},"mark":"point"},
    {"width":121,"height":15,"data":{"name":"one"},"mark":{"type":"text","text":"Update time = 0.42 s.","fontSize":13}},
    {"width":83,"height":15,"data":{"name":"e"},"mark":"point"}
   ],"bounds":"flush","spacing":0},
   {"width":595,"height":9,"data":{"name":"e"},"mark":"point"}
  ],"spacing":0}
 ],"spacing":0},

 {"vconcat":[
  {"hconcat":[
   {"width":2,"height":20,"data":{"name":"e"},"mark":"point"},
   {"width":575,"height":20,"data":{"name":"one"},"mark":{"type":"text","text":"P3: Combination results","fontSize":10,"dy":-2}},
   {"width":6,"height":20,"data":{"name":"e"},"mark":"point"}
  ],"bounds":"flush","spacing":0},
  {"concat":[
   {"width":42,"height":315,"data":{"name":"e"},"mark":"point"},
   {"width":246,"height":282,"view":{"fill":"white"},"resolve":{"axis":{"x":"independent","y":"independent"}},"layer":[
    {"data":{"name":"e"},"mark":"point","encoding":{"x":{"field":"x","type":"quantitative","scale":{"type":"log","domain":[0.1,10],"nice":false},"axis":{"orient":"bottom","values":[0.1,1,10],"labelExpr":"datum.value < 0.5 ? '10⁻¹' : datum.value < 5 ? '10⁰' : '10¹'","grid":true,"ticks":false,"labelBaseline":"alphabetic","labelPadding":19,"title":"H","titlePadding":0}},"y":{"field":"y","type":"quantitative","scale":{"domain":[-0.555,1.173],"nice":false,"zero":false},"axis":{"orient":"left","values":[-0.5,0,0.5,1],"grid":false,"ticks":true,"tickSize":-4,"labels":false,"domain":false,"title":null}}}},
    {"data":{"name":"pw3"},"mark":{"type":"line","interpolate":"monotone","strokeWidth":2,"clip":true},"encoding":{"x":{"field":"x","type":"quantitative","scale":{"type":"log","domain":[0.1,10],"nice":false},"axis":{"orient":"bottom","values":[0.1,0.2,0.3,0.4,0.5,0.6,0.7,0.8,0.9,1,2,3,4,5,6,7,8,9,10],"grid":true,"gridColor":"#c4c4c4","gridDash":[1,2],"ticks":true,"tickSize":-3,"labels":false,"domain":false,"title":null}},"y":{"field":"y","type":"quantitative","scale":{"domain":[-0.555,1.173],"nice":false,"zero":false},"axis":{"orient":"left","values":[-0.5,0,0.5,1],"grid":true,"ticks":false,"labelPadding":5,"labelExpr":"toString(datum.value)","title":"W","titlePadding":2}},"color":{"field":"d","type":"nominal","scale":{"domain":["Design_1","Design_2"],"range":["#4b8fc9","#e8393c"]},"legend":{"title":null}}}}]},
   {"width":39,"height":1,"data":{"name":"e"},"mark":"point"},
   {"vconcat":[
    {"width":247,"height":1,"data":{"name":"e"},"mark":"point"},
    {"width":247,"height":129,"view":{"fill":"white"},"resolve":{"axis":{"x":"independent","y":"independent"}},"layer":[
     {"data":{"name":"e"},"mark":"point","encoding":{"x":{"field":"x","type":"quantitative","scale":{"type":"log","domain":[0.01,100],"nice":false},"axis":{"orient":"bottom","values":[0.01,0.1,1,10,100],"labelExpr":"datum.value < 0.05 ? '10⁻²' : datum.value < 0.5 ? '10⁻¹' : datum.value < 5 ? '10⁰' : datum.value < 50 ? '10¹' : '10²'","grid":true,"ticks":false,"labelBaseline":"alphabetic","labelPadding":19,"title":null}},"y":{"field":"y","type":"quantitative","scale":{"domain":[-0.22,6.34],"nice":false,"zero":false},"axis":{"orient":"left","values":[0,1,2,3,4,5,6],"grid":false,"ticks":true,"tickSize":-4,"labels":false,"domain":false,"title":null}}}},
     {"data":{"name":"ps3"},"mark":{"type":"line","interpolate":"monotone","strokeWidth":2,"clip":true},"encoding":{"x":{"field":"x","type":"quantitative","scale":{"type":"log","domain":[0.01,100],"nice":false},"axis":{"orient":"bottom","values":[0.01,0.02,0.03,0.04,0.05,0.06,0.07,0.08,0.09,0.1,0.2,0.3,0.4,0.5,0.6,0.7,0.8,0.9,1,2,3,4,5,6,7,8,9,10,20,30,40,50,60,70,80,90,100],"grid":true,"gridColor":"#c4c4c4","gridDash":[1,2],"ticks":true,"tickSize":-3,"labels":false,"domain":false,"title":null}},"y":{"field":"y","type":"quantitative","scale":{"domain":[-0.22,6.34],"nice":false,"zero":false},"axis":{"orient":"left","values":[0,1,2,3,4,5,6],"grid":true,"ticks":false,"labelPadding":5,"labelExpr":"toString(datum.value)","title":"S","titlePadding":2}},"color":{"field":"d","type":"nominal","scale":{"domain":["Design_1","Design_2"],"range":["#4b8fc9","#e8393c"]},"legend":{"title":null}}}}]},
    {"width":247,"height":23,"data":{"name":"e"},"mark":"point"},
    {"width":247,"height":129,"view":{"fill":"white"},"resolve":{"axis":{"x":"independent","y":"independent"}},"layer":[
     {"data":{"name":"e"},"mark":"point","encoding":{"x":{"field":"x","type":"quantitative","scale":{"type":"log","domain":[0.01,100],"nice":false},"axis":{"orient":"bottom","values":[0.01,0.1,1,10,100],"labelExpr":"datum.value < 0.05 ? '10⁻²' : datum.value < 0.5 ? '10⁻¹' : datum.value < 5 ? '10⁰' : datum.value < 50 ? '10¹' : '10²'","grid":true,"ticks":false,"labelBaseline":"alphabetic","labelPadding":19,"title":"σ","titleFont":"Liberation Serif","titleFontStyle":"italic","titleFontSize":12,"titlePadding":0}},"y":{"field":"y","type":"quantitative","scale":{"domain":[0.003,0.75],"nice":false,"zero":false},"axis":{"orient":"left","values":[0.2,0.4,0.6],"grid":false,"ticks":true,"tickSize":-4,"labels":false,"domain":false,"title":null}}}},
     {"data":{"name":"pd3"},"mark":{"type":"line","interpolate":"monotone","strokeWidth":2,"clip":true},"encoding":{"x":{"field":"x","type":"quantitative","scale":{"type":"log","domain":[0.01,100],"nice":false},"axis":{"orient":"bottom","values":[0.01,0.02,0.03,0.04,0.05,0.06,0.07,0.08,0.09,0.1,0.2,0.3,0.4,0.5,0.6,0.7,0.8,0.9,1,2,3,4,5,6,7,8,9,10,20,30,40,50,60,70,80,90,100],"grid":true,"gridColor":"#c4c4c4","gridDash":[1,2],"ticks":true,"tickSize":-3,"labels":false,"domain":false,"title":null}},"y":{"field":"y","type":"quantitative","scale":{"domain":[0.003,0.75],"nice":false,"zero":false},"axis":{"orient":"left","values":[0.2,0.4,0.6],"grid":true,"ticks":false,"labelPadding":5,"labelExpr":"toString(datum.value)","title":"D","titlePadding":2}},"color":{"field":"d","type":"nominal","scale":{"domain":["Design_1","Design_2"],"range":["#4b8fc9","#e8393c"]},"legend":null}}}]}
   ],"bounds":"flush","spacing":0,"resolve":{"scale":{"color":"independent"}}},
   {"width":9,"height":1,"data":{"name":"e"},"mark":"point"},

   {"width":42,"height":1,"data":{"name":"e"},"mark":"point"},
   {"width":246,"height":1,"data":{"name":"e"},"mark":"point"},
   {"width":39,"height":1,"data":{"name":"e"},"mark":"point"},
   {"width":247,"height":1,"data":{"name":"e"},"mark":"point"},
   {"width":9,"height":1,"data":{"name":"e"},"mark":"point"}
  ],"columns":5,"bounds":"flush","spacing":0,"resolve":{"scale":{"color":"independent"}}}
 ],"spacing":0,"resolve":{"scale":{"color":"independent"}}}
],"spacing":0,"resolve":{"scale":{"color":"independent"}}}
]
}
